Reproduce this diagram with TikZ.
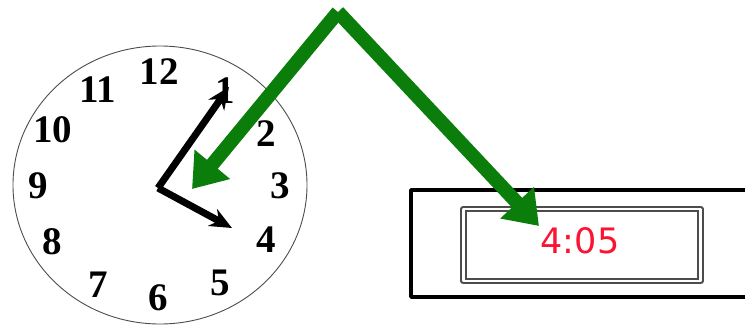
\documentclass[tikz,border=0pt]{standalone}
\usepackage{fontspec}
\setmainfont{Liberation Serif}
\newfontfamily\lcdfont{DejaVu Sans}
\usetikzlibrary{arrows.meta}
\definecolor{arrowgreen}{RGB}{10,125,10}
\definecolor{lcdred}{RGB}{250,20,50}
\tikzset{
	numeral/.style={font=\bfseries\fontsize{39}{39}\selectfont, inner sep=0pt},
	clockhand/.style={draw=black, line width=7pt, -{Stealth[length=22pt,width=19pt]}},
	bigarrow/.style={draw=arrowgreen, line width=14pt, -{Triangle[length=32pt,width=44pt]}}
}
\begin{document}
\begin{tikzpicture}[x=1pt,y=-1pt, line join=round, >=Stealth]
			\useasboundingbox (0,0) rectangle (745,325);
			% mặt đồng hồ
			\draw[line width=.9pt, gray!60!black] (160,185) ellipse (147 and 139);
			\foreach \n/\px/\py in {12/159/72, 1/225/91, 2/266/134, 3/280/186, 4/266/240, 5/220/283, 6/158/298, 7/98/285, 8/52/242, 9/38/186, 10/53/130, 11/98/90}
				\node[numeral] (h\n) at (\px,\py) {\n};
			\coordinate (pivot) at (158,188);
			\coordinate (minutetip) at (229,87);
			\coordinate (hourtip) at (232,228);
			\draw[clockhand] (pivot) -- (minutetip);
			\draw[clockhand] (pivot) -- (hourtip);
			% đồng hồ số
			\draw[line width=3.6pt] (749,190) -- (411,190) -- (411,297) -- (749,297);
			\node[draw=gray!60!black, double=white, double distance=2.4pt, line width=2.2pt,
				minimum width=237pt, minimum height=72pt] (lcd) at (582,245) {};
			\node[text=lcdred, font=\lcdfont\fontsize{35}{35}\selectfont] (time) at (580,241) {4:05};
			% mũi tên
			\coordinate (apex) at (338,12);
			\coordinate (toclock) at (192,189);
			\coordinate (todigital) at (539,226);
			\draw[bigarrow] (apex) -- (toclock);
			\draw[bigarrow] (apex) -- (todigital);
		\end{tikzpicture}
\end{document}
